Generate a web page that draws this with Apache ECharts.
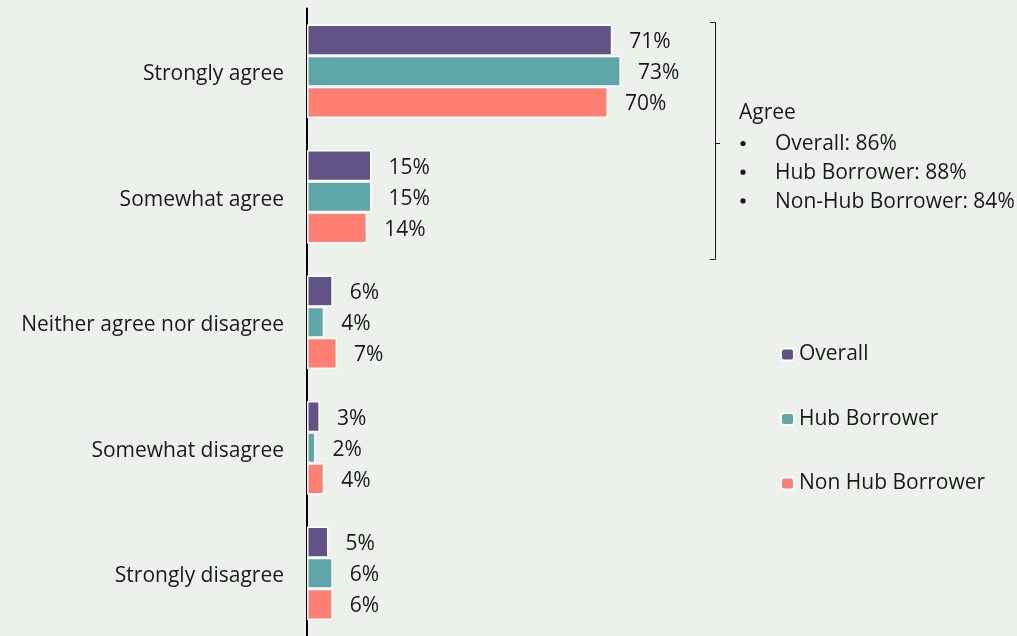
<!DOCTYPE html>
<html>
<head>
<meta charset="utf-8">
<script src="https://cdn.jsdelivr.net/npm/echarts@6/dist/echarts.min.js"></script>
<style>
  html, body { margin: 0; padding: 0; background: #EDF1EC; }
  #chart { width: 1017px; height: 636px; }
</style>
</head>
<body>
<div id="chart"></div>
<script>
// Survey response categories, top to bottom
const categories = ['Strongly agree', 'Somewhat agree', 'Neither agree nor disagree', 'Somewhat disagree', 'Strongly disagree'];
// Share of respondents (%) per group
const overall = [71, 15, 6, 3, 5];
const hubBorrower = [73, 15, 4, 2, 6];
const nonHubBorrower = [70, 14, 7, 4, 6];
const seriesNames = ['Overall', 'Hub Borrower', 'Non Hub Borrower'];
// Combined "agree" summary shown beside the bracket
const agreeTitle = 'Agree';
const agreeLines = ['Overall: 86%', 'Hub Borrower: 88%', 'Non-Hub Borrower: 84%'];

const FONT = '"Open Sans", "Noto Sans", sans-serif';
const TEXT = '#1a1a1a';
const colors = ['#625387', '#5FA6A9', '#FF7F73'];

function barSeries(name, data, color) {
  return {
    name: name,
    type: 'bar',
    data: data,
    barGap: '0%',
    barCategoryGap: '25.5%',
    itemStyle: { color: color, borderColor: '#ffffff', borderWidth: 1.5 },
    label: {
      show: true,
      position: 'right',
      distance: 17,
      offset: [0, 2],
      formatter: '{c}%',
      fontFamily: FONT,
      fontSize: 21,
      color: TEXT
    }
  };
}

const chart = echarts.init(document.getElementById('chart'));

const graphics = [
  // bracket grouping the two "agree" rows
  {
    type: 'polyline',
    shape: { points: [[710, 22.5], [715.5, 22.5], [715.5, 259.5], [710, 259.5]] },
    style: { stroke: TEXT, lineWidth: 1, fill: null }
  },
  {
    type: 'line',
    shape: { x1: 715.5, y1: 143.5, x2: 720, y2: 143.5 },
    style: { stroke: TEXT, lineWidth: 1 }
  },
  {
    type: 'text',
    left: 739, top: 103,
    style: { text: agreeTitle, fontFamily: FONT, fontSize: 21, fill: TEXT }
  }
];
agreeLines.forEach(function (t, i) {
  const y = 134 + i * 28.7;
  graphics.push({
    type: 'circle',
    shape: { cx: 743, cy: y + 9.5, r: 2.6 },
    style: { fill: TEXT }
  });
  graphics.push({
    type: 'text', left: 775, top: y,
    style: { text: t, fontFamily: FONT, fontSize: 21, fill: TEXT }
  });
});

chart.setOption({
  backgroundColor: '#EDF1EC',
  animation: false,
  grid: { left: 307, top: 8.5, width: 430, height: 632.5 },
  legend: {
    orient: 'vertical',
    left: 780,
    top: 344,
    padding: 0,
    itemWidth: 13,
    itemHeight: 12,
    itemGap: 43.5,
    data: seriesNames,
    textStyle: { fontFamily: FONT, fontSize: 21, color: TEXT }
  },
  xAxis: {
    type: 'value',
    min: 0,
    max: 100,
    show: false
  },
  yAxis: {
    type: 'category',
    data: categories,
    inverse: true,
    axisLine: { show: true, lineStyle: { color: '#000000', width: 2 } },
    axisTick: { show: false },
    axisLabel: {
      margin: 23,
      formatter: function (v) { return '{c|' + v + '}'; },
      rich: {
        c: { fontFamily: FONT, fontSize: 21, color: TEXT, padding: [6, 0, 0, 0] }
      }
    }
  },
  series: [
    barSeries(seriesNames[0], overall, colors[0]),
    barSeries(seriesNames[1], hubBorrower, colors[1]),
    barSeries(seriesNames[2], nonHubBorrower, colors[2])
  ],
  graphic: graphics
});
</script>
</body>
</html>
